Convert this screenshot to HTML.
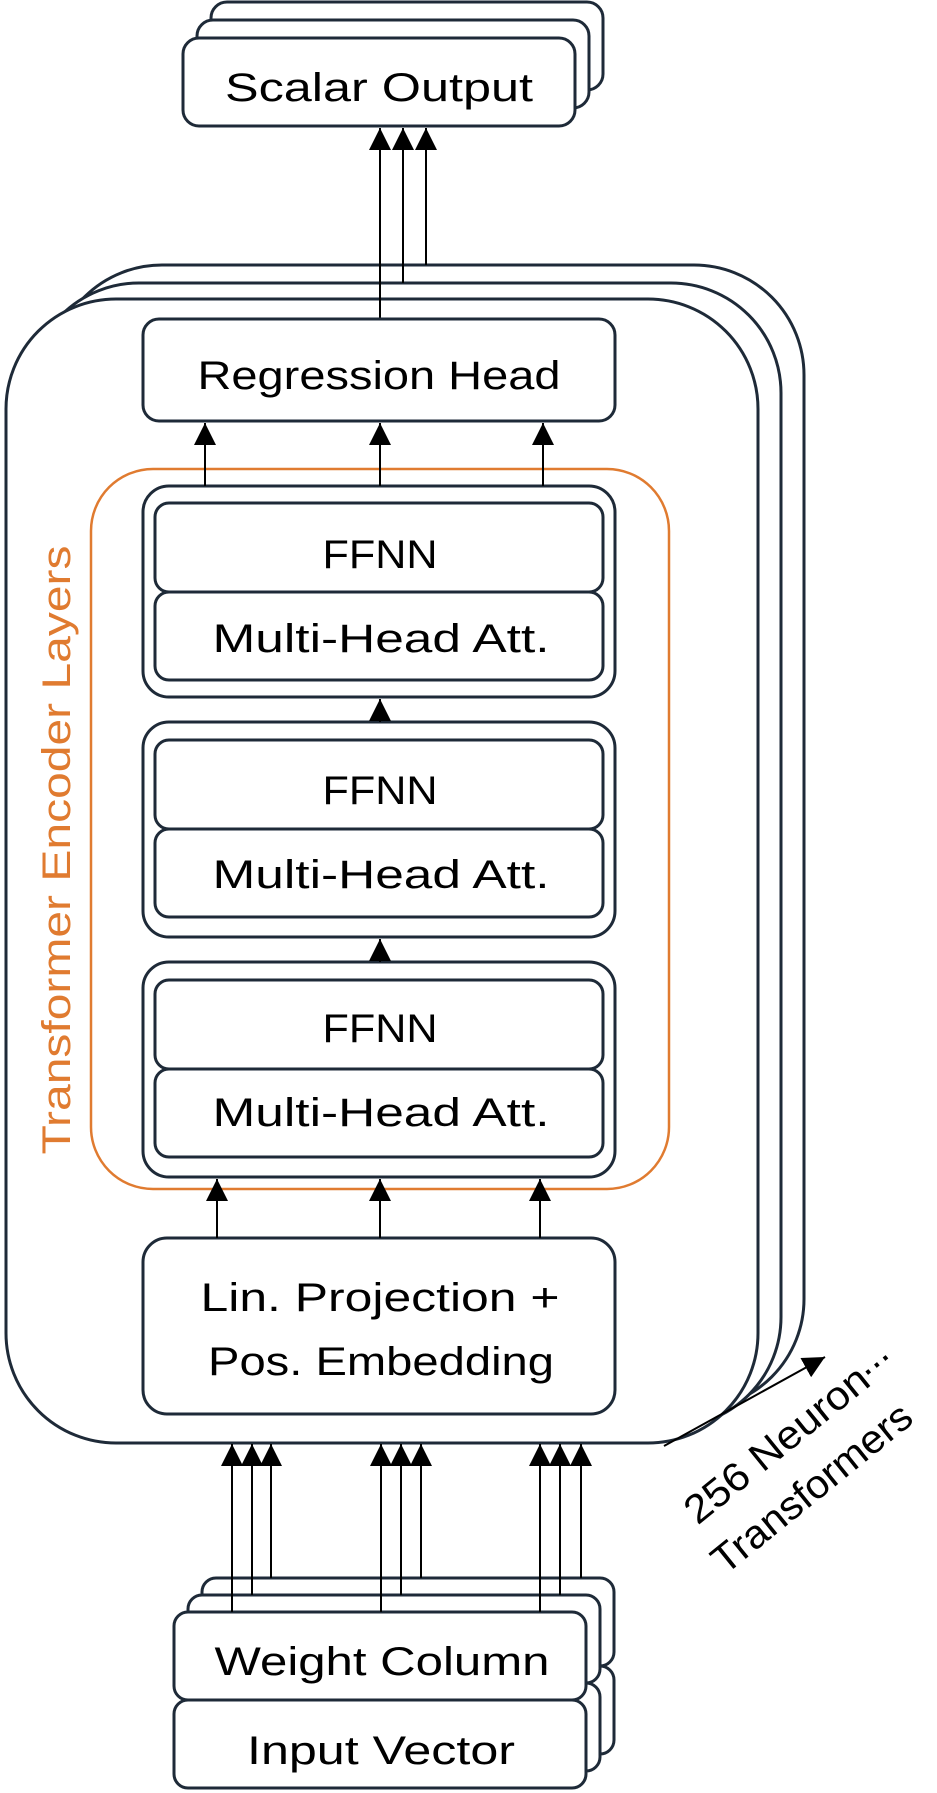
<!DOCTYPE html>
<html><head><meta charset="utf-8"><style>html,body{margin:0;padding:0;background:#fff}svg{display:block}</style></head>
<body>
<svg width="937" height="1793" viewBox="0 0 937 1793" xmlns="http://www.w3.org/2000/svg" font-family="Liberation Sans, sans-serif" font-size="40">
<defs>
<marker id="a" viewBox="0 0 10 10" refX="10" refY="5" markerWidth="22" markerHeight="22" markerUnits="userSpaceOnUse" orient="auto"><path d="M0,0L10,5L0,10z" fill="#000"/></marker>
</defs>
<g fill="#fff" stroke="#1e2a38" stroke-width="3">
<rect x="211" y="2" width="392" height="88" rx="16"/>
<rect x="197" y="20" width="392" height="88" rx="16"/>
<rect x="183" y="38" width="392" height="88" rx="16"/>
<rect x="52" y="265" width="752" height="1144" rx="110"/>
<rect x="29" y="283" width="752" height="1144" rx="110"/>
<rect x="6" y="299" width="752" height="1144" rx="110"/>
</g>
<g stroke="#000" stroke-width="2" fill="none">
<line x1="380" y1="319" x2="380" y2="128" marker-end="url(#a)"/>
<line x1="403" y1="283" x2="403" y2="128" marker-end="url(#a)"/>
<line x1="426" y1="265" x2="426" y2="128" marker-end="url(#a)"/>
</g>
<g fill="#fff" stroke="#1e2a38" stroke-width="3">
<rect x="143" y="319" width="472" height="102" rx="16"/>
</g>
<rect x="91" y="469" width="578" height="720" rx="62" fill="none" stroke="#e07b30" stroke-width="2.5"/>
<g fill="#fff" stroke="#1e2a38" stroke-width="3">
<rect x="143" y="486" width="472" height="211" rx="26"/>
<rect x="155" y="503" width="448" height="89" rx="14"/>
<rect x="155" y="592" width="448" height="88" rx="14"/>
<rect x="143" y="722" width="472" height="215" rx="26"/>
<rect x="155" y="740" width="448" height="89" rx="14"/>
<rect x="155" y="829" width="448" height="88" rx="14"/>
<rect x="143" y="962" width="472" height="215" rx="26"/>
<rect x="155" y="980" width="448" height="89" rx="14"/>
<rect x="155" y="1069" width="448" height="88" rx="14"/>
<rect x="143" y="1238" width="472" height="176" rx="24"/>
</g>
<g stroke="#000" stroke-width="2" fill="none">
<line x1="205" y1="486" x2="205" y2="423" marker-end="url(#a)"/>
<line x1="380" y1="486" x2="380" y2="423" marker-end="url(#a)"/>
<line x1="543" y1="486" x2="543" y2="423" marker-end="url(#a)"/>
<line x1="380" y1="722" x2="380" y2="699" marker-end="url(#a)"/>
<line x1="380" y1="962" x2="380" y2="939" marker-end="url(#a)"/>
<line x1="217" y1="1238" x2="217" y2="1179" marker-end="url(#a)"/>
<line x1="380" y1="1238" x2="380" y2="1179" marker-end="url(#a)"/>
<line x1="540" y1="1238" x2="540" y2="1179" marker-end="url(#a)"/>
</g>
<g fill="#fff" stroke="#1e2a38" stroke-width="3">
<rect x="202" y="1578" width="412" height="88" rx="14"/>
<rect x="202" y="1666" width="412" height="88" rx="14"/>
<rect x="188" y="1595" width="412" height="88" rx="14"/>
<rect x="188" y="1683" width="412" height="88" rx="14"/>
<rect x="174" y="1612" width="412" height="88" rx="14"/>
<rect x="174" y="1700" width="412" height="88" rx="14"/>
</g>
<g stroke="#000" stroke-width="2" fill="none">
<line x1="232" y1="1612" x2="232" y2="1444" marker-end="url(#a)"/>
<line x1="252" y1="1595" x2="252" y2="1444" marker-end="url(#a)"/>
<line x1="271" y1="1578" x2="271" y2="1444" marker-end="url(#a)"/>
<line x1="381" y1="1612" x2="381" y2="1444" marker-end="url(#a)"/>
<line x1="401" y1="1595" x2="401" y2="1444" marker-end="url(#a)"/>
<line x1="421" y1="1578" x2="421" y2="1444" marker-end="url(#a)"/>
<line x1="540" y1="1612" x2="540" y2="1444" marker-end="url(#a)"/>
<line x1="560" y1="1595" x2="560" y2="1444" marker-end="url(#a)"/>
<line x1="581" y1="1578" x2="581" y2="1444" marker-end="url(#a)"/>
<line x1="664" y1="1446" x2="825" y2="1357" marker-end="url(#a)"/>
</g>
<g fill="#000" text-anchor="middle">
<text x="379" y="101" textLength="308" lengthAdjust="spacingAndGlyphs">Scalar Output</text>
<text x="379" y="389" textLength="363" lengthAdjust="spacingAndGlyphs">Regression Head</text>
<text x="380" y="568" textLength="115" lengthAdjust="spacingAndGlyphs">FFNN</text>
<text x="381" y="652" textLength="337" lengthAdjust="spacingAndGlyphs">Multi-Head Att.</text>
<text x="380" y="804" textLength="115" lengthAdjust="spacingAndGlyphs">FFNN</text>
<text x="381" y="888" textLength="337" lengthAdjust="spacingAndGlyphs">Multi-Head Att.</text>
<text x="380" y="1042" textLength="115" lengthAdjust="spacingAndGlyphs">FFNN</text>
<text x="381" y="1126" textLength="337" lengthAdjust="spacingAndGlyphs">Multi-Head Att.</text>
<text x="380" y="1311" textLength="359" lengthAdjust="spacingAndGlyphs">Lin. Projection +</text>
<text x="381" y="1375" textLength="346" lengthAdjust="spacingAndGlyphs">Pos. Embedding</text>
<text x="382" y="1675" textLength="335" lengthAdjust="spacingAndGlyphs">Weight Column</text>
<text x="381" y="1764" textLength="268" lengthAdjust="spacingAndGlyphs">Input Vector</text>
</g>
<text transform="translate(70,850) rotate(-90)" text-anchor="middle" fill="#e07b30" textLength="609" lengthAdjust="spacingAndGlyphs">Transformer Encoder Layers</text>
<g transform="translate(785,1455) rotate(-39)" text-anchor="middle" fill="#000">
<text x="0" y="0" textLength="225" lengthAdjust="spacingAndGlyphs">256 Neuron</text>
<text x="0" y="56" textLength="245" lengthAdjust="spacingAndGlyphs">Transformers</text>
<text x="128" y="-10">...</text>
</g>
</svg>
</body></html>
